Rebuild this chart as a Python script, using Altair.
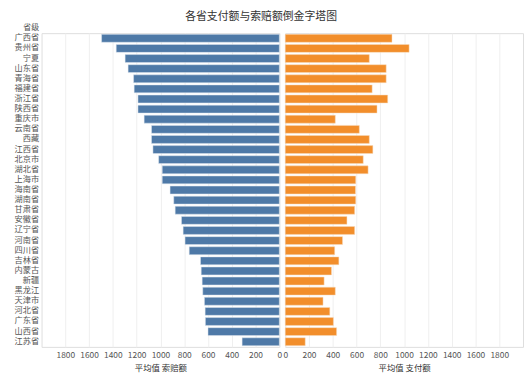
import altair as alt
import pandas as pd

provinces = ["广西省", "贵州省", "宁夏", "山东省", "青海省", "福建省", "浙江省", "陕西省",
             "重庆市", "云南省", "西藏", "江西省", "北京市", "湖北省", "上海市", "海南省",
             "湖南省", "甘肃省", "安徽省", "辽宁省", "河南省", "四川省", "吉林省", "内蒙古",
             "新疆", "黑龙江", "天津市", "河北省", "广东省", "山西省", "江苏省"]
claim = [1495, 1372, 1297, 1272, 1226, 1221, 1189, 1189, 1137, 1075, 1075, 1063, 1015,
         985, 985, 919, 888, 876, 823, 809, 793, 758, 663, 657, 649, 644, 630, 624, 622,
         600, 313]
pay = [898, 1042, 707, 849, 849, 731, 862, 772, 421, 623, 707, 737, 656, 697, 593, 591,
       593, 584, 519, 584, 482, 416, 451, 389, 327, 421, 318, 375, 405, 432, 168]
ticks = [0, 200, 400, 600, 800, 1000, 1200, 1400, 1600, 1800]

df = pd.DataFrame({"省级": provinces, "索赔额": claim, "支付额": pay})

FONT = "Noto Sans CJK SC"
W = 241
H = 318

yband = alt.Scale(paddingInner=0.22, paddingOuter=0.12)


def xaxis(title):
    return alt.Axis(values=ticks, title=title, grid=True, gridColor="#efefef", format="d",
                    ticks=False, domain=False, labelPadding=4, labelFontSize=8.5,
                    labelColor="#555", labelOverlap=False, labelFlush=False,
                    titleFontSize=8.5, titleFontWeight="normal", titleColor="#333",
                    titlePadding=4)


left = alt.Chart(df).mark_bar(color="#4e79a7", stroke="#dfe6ee", strokeWidth=0.5).encode(
    y=alt.Y("省级:N", sort=provinces, scale=yband,
            axis=alt.Axis(title="省级", titleAngle=0, titleAlign="right", titleBaseline="bottom",
                          titleX=-3, titleY=-2, titleFontSize=8, titleFontWeight="normal",
                          titleColor="#555", labelFontSize=8.3, labelColor="#555",
                          labelOverlap=False, ticks=False, domain=False, labelPadding=3,
                          minExtent=33, maxExtent=33)),
    x=alt.X("索赔额:Q", scale=alt.Scale(domain=[0, 2000], reverse=True, nice=False),
            axis=xaxis("平均值 索赔额")),
).properties(width=W, height=H)

right = alt.Chart(df).mark_bar(color="#f28e2b", stroke="#f6dcc0", strokeWidth=0.5).encode(
    y=alt.Y("省级:N", sort=provinces, scale=yband, axis=None),
    x=alt.X("支付额:Q", scale=alt.Scale(domain=[0, 2000], nice=False),
            axis=xaxis("平均值 支付额")),
).properties(width=W, height=H)

chart = alt.hconcat(left, right, spacing=0).properties(
    title=alt.TitleParams("各省支付额与索赔额倒金字塔图", fontSize=11, font=FONT, color="#333",
                          fontWeight="normal", anchor="middle", offset=1, dx=-5),
    padding=0,
).configure(font=FONT).configure_view(stroke="#dddddd", strokeWidth=1).configure_axis(
    labelFont=FONT, titleFont=FONT
)

chart.save("out.html", embed_options={"renderer": "svg", "actions": False})
